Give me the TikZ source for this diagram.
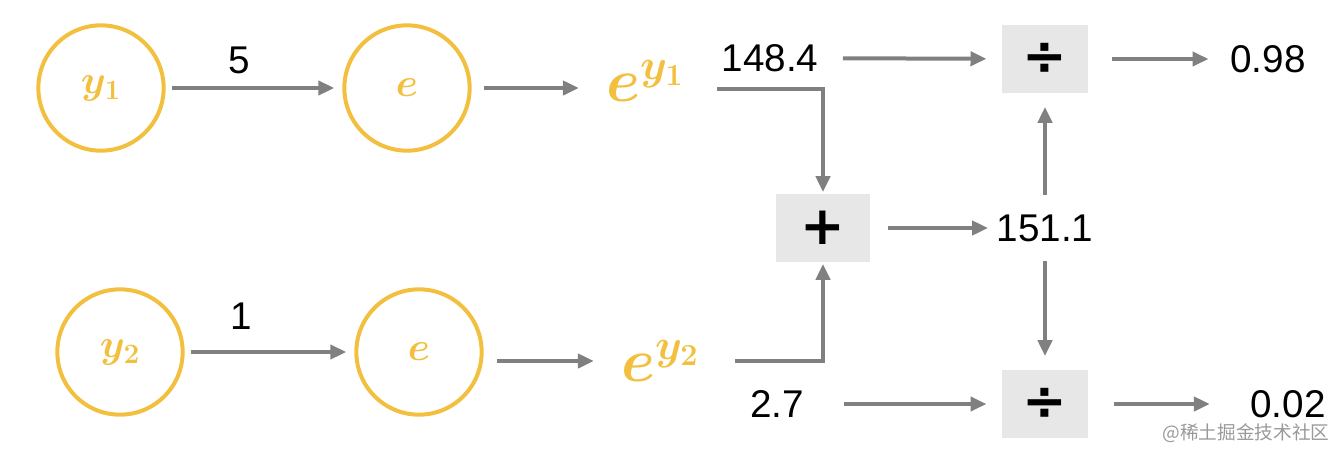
\documentclass[tikz,border=0pt]{standalone}
\usepackage{fix-cm}
\usepackage{fontspec}
\setmainfont{Liberation Sans}
\newfontfamily\opfont{DejaVu Sans}
\newfontfamily\cjkfont{Noto Sans CJK SC}
\usetikzlibrary{arrows.meta}
\definecolor{expgold}{RGB}{242,192,62}
\definecolor{wiregray}{RGB}{128,128,128}
\definecolor{opfill}{RGB}{231,231,231}
\tikzset{every picture/.style={line width=0.75pt}}
\tikzset{
  unit/.style={circle,draw=expgold,line width=3pt,minimum size=94pt,inner sep=0pt,text=expgold,font=\fontsize{30}{36}\selectfont\boldmath},
  expo/.style={text=expgold,inner sep=0pt,font=\fontsize{46}{54}\selectfont\boldmath},
  val/.style={inner sep=0pt,font=\fontsize{29}{34}\selectfont},
  opbox/.style={fill=opfill,inner sep=0pt,minimum height=51pt,font=\opfont\bfseries\fontsize{40}{48}\selectfont},
  wire/.style={draw=wiregray,line width=3pt,-{Triangle[length=12pt,width=10.5pt]}}
}

\begin{document}
\begin{tikzpicture}[x=0.75pt,y=0.75pt,yscale=-1,xscale=1]
\useasboundingbox (0,0) rectangle (1344,458);

%Shape: Circles
\node[unit] (y1) at (101,88) {$y_1$};
\node[unit] (e1) at (407,88) {$e$};
\node[unit] (y2) at (120,352) {$y_2$};
\node[unit] (e2) at (419,352) {$e$};

% Text Node
\node[expo] (ey1) at (645,81) {$e^{y_1}$};
\node[expo] (ey2) at (660,361) {$e^{y_2}$};
\node[val] (w1) at (239,60) {5};
\node[val] (w2) at (241,316) {1};
\node[val] (v1) at (770,58) {148.4};
\node[val] (v2) at (777,404) {2.7};
\node[val] (sum) at (1045,228) {151.1};
\node[val] (r1) at (1268,59) {0.98};
\node[val] (r2) at (1288,404) {0.02};

%Shape: Operator boxes
\node[opbox,minimum width=70pt] (plus) at (823,228) {+};
\node[opbox,minimum width=65pt] (div1) at (1045,59) {÷};
\node[opbox,minimum width=65pt] (div2) at (1045,404) {÷};

% Text Node
\node[text=black!40,inner sep=0pt,font=\cjkfont\fontsize{14}{16}\selectfont] (mark) at (1246,433) {@稀土掘金技术社区};

%Straight Lines
\draw[wire,shorten <=5pt,shorten >=6pt] (y1) -- (e1);
\draw[wire,shorten <=5pt,shorten >=6pt] (y2) -- (e2);
\draw[wire,shorten <=9pt,shorten >=20pt] (e1) -- (ey1.west |- e1);
\draw[wire,shorten <=10pt,shorten >=20pt] (e2.east |- ey2) -- (ey2.west);

\coordinate (s1) at (717,89);
\coordinate (s2) at (735,361);
\draw[wire,shorten >=1pt] (s1) -| (plus);
\draw[wire,shorten >=1pt] (s2) -| (plus);

\draw[wire,shorten <=13pt,shorten >=6pt] (plus) -- (sum);
\draw[wire,shorten <=14pt,shorten >=10pt] (sum) -- (div1);
\draw[wire,shorten <=14pt,shorten >=10pt] (sum) -- (div2);
\draw[wire,shorten <=18pt,shorten >=11pt] (v1) -- (div1);
\draw[wire,shorten <=30pt,shorten >=11pt] (v2) -- (div2);
\draw[wire,shorten <=17pt,shorten >=16pt] (div1) -- (r1);
\draw[wire,shorten <=19pt,shorten >=30pt] (div2) -- (r2);

\end{tikzpicture}
\end{document}
